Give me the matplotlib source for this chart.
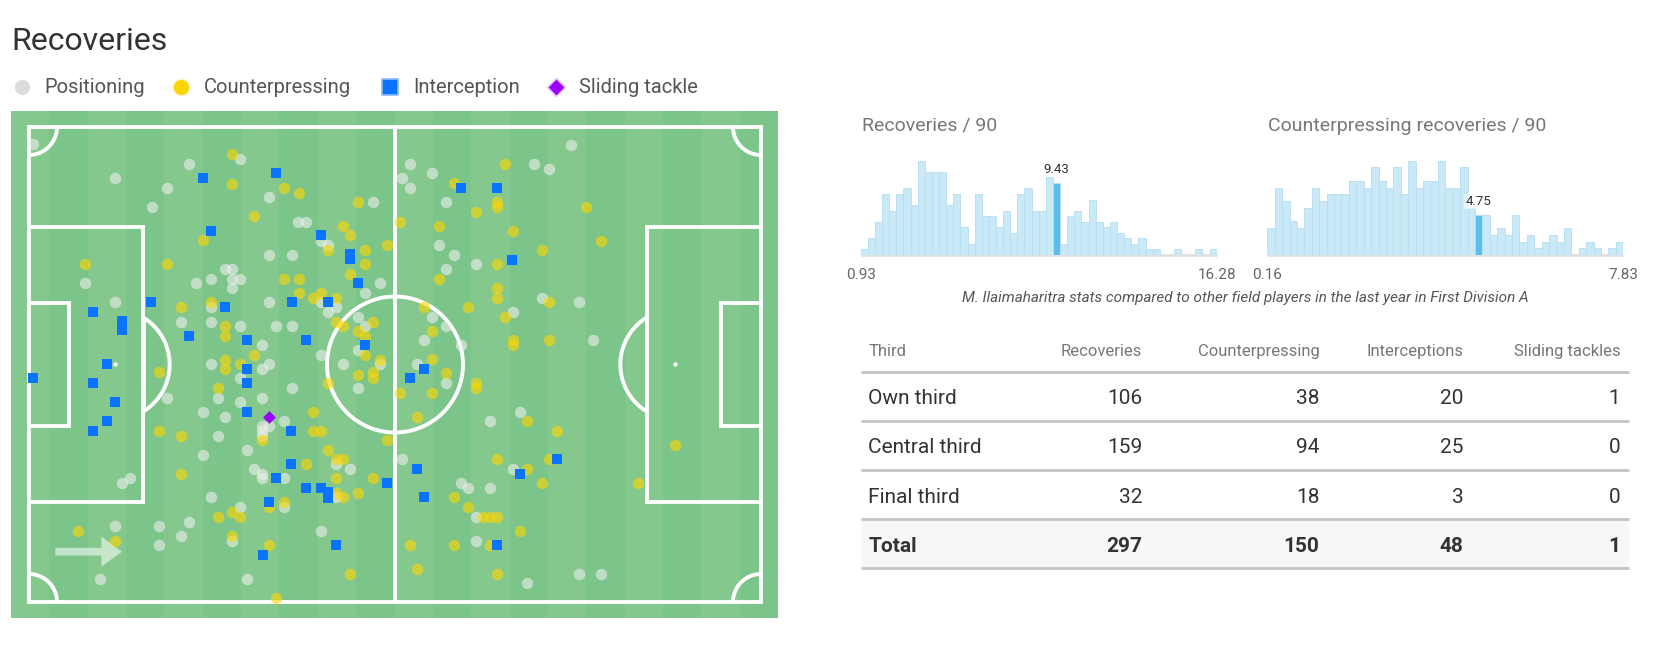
import numpy as np
import matplotlib
matplotlib.use('Agg')
import matplotlib.pyplot as plt
from matplotlib.patches import FancyArrow, Rectangle

plt.rcParams['font.family'] = ['Roboto', 'DejaVu Sans']

W, H = 1653, 649

# ---------------- data ----------------
# recovery locations, pitch coordinates 0-100 (x: own goal -> opponent goal, y: top -> bottom)
positioning_x = [0.6, 21.8, 28.8, 11.7, 18.8, 16.8, 32.8, 47.0, 36.8, 37.8,
                 39.9, 40.9, 32.8, 35.9, 26.8, 27.8, 27.8, 28.8, 24.8, 22.8,
                 27.8, 48.0, 45.9, 7.7, 11.7, 32.8, 39.9, 41.9, 40.9, 24.8,
                 20.8, 24.8, 28.8, 33.8, 35.9, 44.9, 45.9, 31.8, 39.9, 44.9,
                 42.9, 48.0, 24.8, 32.8, 31.8, 74.1, 52.0, 51.0, 52.0, 55.0,
                 69.0, 71.1, 57.0, 56.0, 58.0, 61.0, 57.0, 70.1, 75.1, 66.1,
                 55.0, 57.0, 54.0, 59.0, 77.1, 53.0, 28.8, 18.8, 25.8, 28.8,
                 31.8, 35.9, 44.9, 23.8, 26.8, 34.8, 31.8, 32.8, 31.8, 31.8,
                 25.8, 29.8, 23.8, 41.9, 43.9, 30.8, 31.8, 31.8, 34.8, 41.9,
                 12.7, 13.8, 24.8, 34.8, 28.8, 21.8, 17.8, 11.7, 20.8, 17.8,
                 27.8, 39.9, 9.7, 29.8, 57.0, 63.0, 67.1, 51.0, 66.1, 59.0,
                 60.0, 63.0, 61.0, 61.0, 68.1, 75.1, 78.1]
positioning_y = [3.6, 7.8, 6.8, 10.8, 12.8, 16.8, 14.8, 15.8, 19.9, 19.9,
                 24.1, 24.8, 26.9, 26.9, 29.9, 29.9, 31.9, 31.9, 31.9, 32.9,
                 33.9, 32.9, 34.9, 32.9, 36.9, 36.9, 36.9, 38.0, 38.9, 38.0,
                 41.0, 41.0, 42.0, 42.0, 42.0, 39.9, 42.0, 45.9, 48.0, 46.9,
                 50.0, 50.0, 50.0, 50.0, 51.0, 3.8, 7.8, 10.8, 12.8, 9.7,
                 7.8, 8.8, 15.8, 24.8, 26.9, 28.8, 29.9, 35.9, 36.9, 38.9,
                 39.9, 42.0, 44.9, 45.9, 44.9, 50.0, 52.9, 57.0, 57.0, 58.0,
                 57.0, 55.0, 55.0, 60.0, 61.0, 62.0, 62.9, 62.9, 64.1, 65.1,
                 65.1, 68.0, 69.1, 71.0, 72.1, 72.1, 73.1, 74.0, 74.0, 78.0,
                 75.0, 74.0, 78.0, 80.0, 80.0, 83.1, 84.1, 84.1, 86.1, 88.1,
                 87.1, 85.1, 95.1, 95.1, 54.0, 62.0, 60.0, 70.0, 72.1, 75.0,
                 76.1, 76.1, 82.0, 87.1, 96.1, 94.1, 94.1]

counterpressing_x = [27.8, 27.8, 34.9, 36.9, 44.9, 30.8, 42.9, 43.9, 45.9, 45.9,
                     48.9, 40.9, 43.9, 23.8, 7.7, 18.8, 34.9, 36.9, 36.9, 38.8,
                     39.9, 41.9, 20.8, 24.8, 26.8, 26.8, 41.9, 42.9, 44.9, 47.0,
                     45.9, 30.8, 26.8, 26.8, 28.8, 45.9, 48.0, 50.7, 17.8, 47.0,
                     44.9, 65.0, 58.0, 64.0, 64.0, 61.0, 56.0, 66.1, 76.1, 78.1,
                     70.1, 64.0, 56.0, 64.0, 64.0, 71.1, 54.0, 60.0, 65.0, 55.0,
                     66.1, 66.1, 71.1, 55.0, 57.0, 47.0, 25.8, 40.9, 50.7, 31.8,
                     38.8, 38.8, 39.9, 48.9, 17.8, 20.8, 40.9, 41.9, 42.9, 37.9,
                     20.8, 41.9, 47.0, 41.9, 42.9, 44.9, 34.8, 32.8, 27.8, 25.8,
                     28.8, 6.7, 11.7, 27.8, 32.8, 43.9, 33.8, 61.0, 61.0, 55.0,
                     53.0, 68.1, 72.1, 64.0, 71.1, 68.1, 70.1, 83.2, 88.2, 58.0,
                     60.0, 62.0, 63.0, 64.0, 67.1, 52.0, 58.0, 63.0, 53.0, 64.0]
counterpressing_y = [5.7, 11.9, 12.8, 13.8, 15.8, 18.8, 20.8, 22.8, 25.8, 28.9,
                     24.8, 25.8, 30.9, 23.8, 28.9, 28.9, 31.9, 31.9, 34.9, 35.9,
                     34.9, 35.9, 38.0, 36.9, 42.0, 43.9, 41.0, 42.0, 43.0, 41.0,
                     43.9, 48.0, 49.0, 51.0, 50.0, 48.0, 49.0, 19.9, 51.5, 51.5,
                     52.2, 7.8, 11.8, 15.8, 16.8, 17.8, 20.8, 21.8, 16.8, 23.9,
                     25.8, 28.8, 31.9, 33.9, 35.9, 36.9, 37.9, 37.9, 39.9, 42.9,
                     44.9, 45.9, 44.9, 48.9, 51.7, 52.9, 55.0, 54.0, 55.9, 65.9,
                     60.0, 64.1, 64.1, 66.0, 64.1, 65.1, 68.0, 70.0, 70.0, 71.0,
                     73.1, 74.0, 74.0, 77.0, 78.0, 77.0, 79.0, 80.0, 81.1, 82.0,
                     82.0, 85.1, 87.1, 86.1, 88.1, 94.1, 99.2, 54.0, 55.0, 55.9,
                     61.0, 62.0, 64.0, 70.0, 70.0, 72.1, 75.0, 75.0, 67.0, 78.0,
                     80.1, 82.0, 82.0, 82.0, 85.1, 88.1, 88.1, 88.1, 93.1, 94.1]

interception_x = [23.8, 33.8, 24.8, 39.9, 43.9, 43.9, 44.9, 16.7, 26.8, 35.9,
                  40.9, 8.7, 12.7, 12.7, 21.8, 29.8, 37.9, 45.9, 10.7, 29.8,
                  0.6, 59.0, 64.0, 66.0, 54.0, 52.0, 8.7, 29.8, 11.7, 10.7,
                  8.7, 29.8, 35.8, 35.8, 33.8, 48.9, 37.9, 39.9, 40.9, 40.9,
                  32.8, 41.9, 31.9, 72.1, 53.0, 67.1, 54.0, 64.0]
interception_y = [10.8, 9.7, 21.9, 22.8, 26.8, 27.8, 32.9, 36.9, 38.0, 36.9,
                  36.9, 38.9, 40.9, 42.8, 43.9, 44.9, 44.9, 45.9, 50.0, 51.0,
                  52.9, 12.8, 12.8, 27.9, 51.0, 52.9, 54.0, 54.0, 58.0, 62.0,
                  64.1, 60.0, 64.1, 71.0, 74.0, 75.0, 76.1, 76.1, 76.8, 78.2,
                  79.0, 88.1, 90.2, 70.0, 72.1, 73.0, 78.0, 88.1]

sliding_x = [32.8]
sliding_y = [61.0]

# distributions (players per bin)
rec_hist = [1, 3, 6, 11, 8, 11, 12, 9, 17, 15, 15, 15, 9, 11, 5, 2, 11, 7, 7, 5,
            8, 4, 11, 12, 8, 8, 14, 13, 2, 7, 8, 6, 10, 6, 5, 6, 4, 3, 2, 3,
            1, 1, 0, 0, 1, 0, 0, 1, 0, 1]
rec_player_bin = 27
rec_player_value = '9.43'
rec_range = ('0.93', '16.28')

cp_hist = [4, 10, 8, 5, 4, 7, 10, 8, 9, 9, 9, 11, 11, 10, 13, 11, 10, 13, 9, 14,
           10, 11, 11, 14, 10, 10, 13, 7, 6, 6, 3, 4, 3, 6, 2, 3, 1, 2, 3, 2,
           4, 0, 1, 2, 1, 0, 1, 2]
cp_player_bin = 28
cp_player_value = '4.75'
cp_range = ('0.16', '7.83')

# table
thirds = ['Own third', 'Central third', 'Final third']
recoveries = [106, 159, 32]
counterpressing = [38, 94, 18]
interceptions = [20, 25, 3]
sliding_tackles = [1, 0, 0]
headers = ['Third', 'Recoveries', 'Counterpressing', 'Interceptions', 'Sliding tackles']

# ---------------- figure ----------------
fig = plt.figure(figsize=(W / 100, H / 100), dpi=100)


def box(x0, y0, x1, y1):
    return [x0 / W, 1 - y1 / H, (x1 - x0) / W, (y1 - y0) / H]


canvas = fig.add_axes([0, 0, 1, 1])
canvas.set_xlim(0, W)
canvas.set_ylim(H, 0)
canvas.axis('off')

# title + legend
canvas.text(11, 50.5, 'Recoveries', fontsize=23, color='#333333', va='baseline')
leg_y = 86.7
canvas.scatter([22], [leg_y], s=140, c='#dcdcdc', edgecolors='white', linewidths=1)
canvas.scatter([181.4], [leg_y], s=140, c='#ffd500', edgecolors='#fff3c0', linewidths=1)
canvas.scatter([390.3], [leg_y], s=145, marker='s', c='#0a74ff', edgecolors='#8db9ff', linewidths=1.2)
canvas.scatter([555.6], [leg_y], s=85, marker='D', c='#9b00ff', edgecolors='#e2ccff', linewidths=1.2)
for xt, lab in [(44.5, 'Positioning'), (204.3, 'Counterpressing'),
                (413.2, 'Interception'), (579.4, 'Sliding tackle')]:
    canvas.text(xt, 93.3, lab, fontsize=14.5, color='#555555', va='baseline')

# ---------------- pitch ----------------
ax = fig.add_axes(box(11, 111, 778, 618))
x0, x1 = -18 / 7.32, 749 / 7.32
y0, y1 = -16 / 4.75, 491 / 4.75
ax.set_xlim(x0, x1)
ax.set_ylim(y1, y0)
ax.axis('off')

nstripes = 20
sw = (x1 - x0) / nstripes
for i in range(nstripes):
    ax.axvspan(x0 + i * sw, x0 + (i + 1) * sw, color=['#85c88d', '#7bc48a'][i % 2], lw=0, zorder=0)

lc = 'white'
lw = 2.8


def pline(xs, ys):
    ax.plot(xs, ys, color=lc, lw=lw, solid_joinstyle='miter', solid_capstyle='projecting', zorder=1)


def parc(cx, cy, r_px, t0, t1, keep=None):
    t = np.radians(np.linspace(t0, t1, 300))
    xs = cx + r_px / 7.32 * np.cos(t)
    ys = cy + r_px / 4.75 * np.sin(t)
    if keep is not None:
        m = keep(xs)
        xs, ys = xs[m], ys[m]
    ax.plot(xs, ys, color=lc, lw=lw, solid_capstyle='butt', zorder=1)


pline([0, 100, 100, 0, 0], [0, 0, 100, 100, 0])
pline([50, 50], [0, 100])
parc(50, 50, 68, 0, 360)
for gx, d in [(0, 1), (100, -1)]:
    pline([gx, gx + d * 15.6, gx + d * 15.6, gx], [21, 21, 79, 79])
    pline([gx, gx + d * 5.4, gx + d * 5.4, gx], [37.1, 37.1, 62.9, 62.9])
parc(11.7, 50, 55, 0, 360, keep=lambda xs: xs >= 15.6)
parc(88.3, 50, 55, 0, 360, keep=lambda xs: xs <= 84.4)
parc(0, 0, 28, 0, 90)
parc(100, 0, 28, 90, 180)
parc(100, 100, 28, 180, 270)
parc(0, 100, 28, 270, 360)
ax.scatter([11.7, 88.3], [50, 50], s=10, c='white', lw=0, zorder=1)

ax.add_patch(FancyArrow(3.6, 89.4, 9.1, 0, width=1.6, head_width=6.3, head_length=2.8,
                        length_includes_head=True, color='white', alpha=0.55, lw=0, zorder=1))

ax.scatter(positioning_x, positioning_y, s=68, c='#eeeeee', alpha=0.6, lw=0, zorder=2)
ax.scatter(counterpressing_x, counterpressing_y, s=68, c='#ffd700', alpha=0.6, lw=0, zorder=2)
ax.scatter(interception_x, interception_y, s=60, marker='s', c='#0a74ff', lw=0, zorder=3)
ax.scatter(sliding_x, sliding_y, s=42, marker='D', c='#9b00ff', lw=0, zorder=4)

# ---------------- histograms ----------------


def hist(ax_box, counts, hi, label, lo_hi, title, title_x):
    hax = fig.add_axes(box(*ax_box))
    n = len(counts)
    cols = ['#c9e9f6'] * n
    cols[hi] = '#5bbde9'
    hax.bar(range(n), counts, width=1.0, color=cols, edgecolor='#b6def1', lw=0.6, zorder=2)
    hax.plot([-0.5, n - 0.5], [0, 0], color='#e0e0e0', lw=2, solid_capstyle='butt',
             clip_on=False, zorder=1)
    hax.set_xlim(-0.5, n - 0.5)
    hax.set_ylim(0, max(counts) * 1.113)
    hax.axis('off')
    hax.annotate(label, xy=(hi, counts[hi]), xytext=(0, 7), textcoords='offset points',
                 ha='center', va='baseline', fontsize=9.5, color='#333333', zorder=3,
                 bbox=dict(boxstyle='square,pad=0.1', fc='white', ec='none', alpha=0.6))
    canvas.text(ax_box[0], 279, lo_hi[0], ha='center', va='baseline', fontsize=11, color='#666666')
    canvas.text(ax_box[2], 279, lo_hi[1], ha='center', va='baseline', fontsize=11, color='#666666')
    canvas.text(title_x, 131, title, fontsize=14, color='#777777', va='baseline')


hist((860.7, 150, 1216.7, 255), rec_hist, rec_player_bin, rec_player_value, rec_range,
     'Recoveries / 90', 861.7)
hist((1267.3, 150, 1623.3, 255), cp_hist, cp_player_bin, cp_player_value, cp_range,
     'Counterpressing recoveries / 90', 1268.3)
canvas.text(1245, 302, 'M. Ilaimaharitra stats compared to other field players in the last year in First Division A',
            ha='center', va='baseline', fontsize=11, style='italic', color='#555555')

# ---------------- table ----------------
tx0, tx1 = 860.7, 1629
line_y = [371.7, 421, 470, 519.3, 568.3]
col_right = [1142.3, 1319.6, 1463.7, 1620.3]
row_base = [404, 452.7, 502.7, 552.3]

canvas.add_patch(Rectangle((tx0, line_y[3]), tx1 - tx0, line_y[4] - line_y[3],
                           color='#f7f7f7', lw=0, zorder=0))
for y in line_y:
    canvas.plot([tx0, tx1], [y, y], color='#c4c4c4', lw=2, solid_capstyle='butt', zorder=1)

canvas.text(868.5, 356, headers[0], fontsize=12, color='#777777', va='baseline')
for xr, h in zip(col_right, headers[1:]):
    canvas.text(xr, 356, h, fontsize=12, color='#777777', va='baseline', ha='right')

rows = list(zip(thirds, recoveries, counterpressing, interceptions, sliding_tackles))
rows.append(('Total', sum(recoveries), sum(counterpressing), sum(interceptions), sum(sliding_tackles)))
for yb, row in zip(row_base, rows):
    fw = 'bold' if row[0] == 'Total' else 'normal'
    canvas.text(868.5, yb, row[0], fontsize=15, color='#333333', va='baseline', fontweight=fw)
    for xr, v in zip(col_right, row[1:]):
        canvas.text(xr, yb, str(v), fontsize=15, color='#333333', va='baseline', ha='right', fontweight=fw)

fig.savefig('out.png', dpi=100)
